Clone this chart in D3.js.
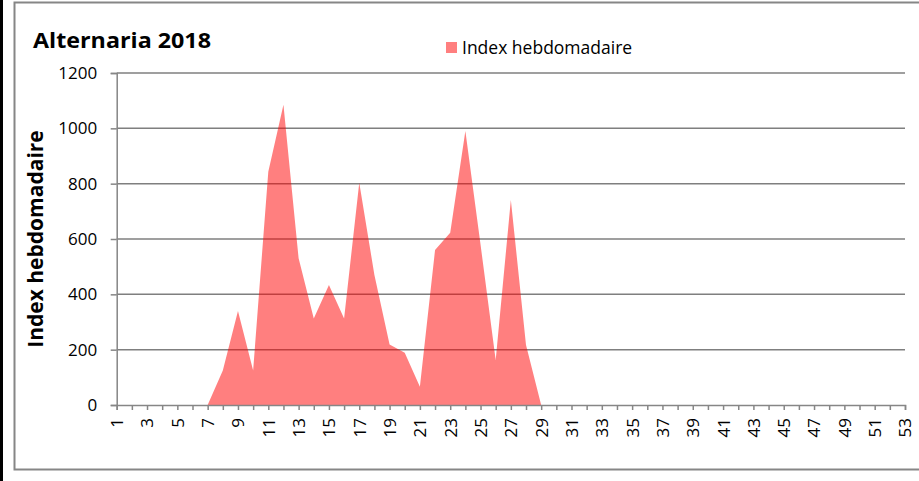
<!DOCTYPE html>
<html>
<head>
<meta charset="utf-8">
<script src="https://d3js.org/d3.v7.min.js"></script>
<style>
	html, body { margin: 0; padding: 0; background: #fff; }
	svg text { font-family: 'Open Sans', sans-serif; fill: #000; }
</style>
</head>
<body>
<div id="chart"></div>
<script>
	// semaines 1..53
	var weeks = [1,2,3,4,5,6,7,8,9,10,11,12,13,14,15,16,17,18,19,20,21,22,23,24,25,26,27,
		28,29,30,31,32,33,34,35,36,37,38,39,40,41,42,43,44,45,46,47,48,49,50,51,52,53];
	var indexValues = [0,0,0,0,0,0,0,125,340,125,843,1085,530,313,434,313,803,470,219,189,66,
		560,623,990,580,163,741,217,0,0,0,0,0,0,0,0,0,0,0,0,0,0,0,0,0,0,0,0,0,0,0,0,0];
	var yTicks = [0,200,400,600,800,1000,1200];
	var xLabels = weeks.filter(function(w){ return w % 2 === 1; });

	var data = weeks.map(function(w, i){ return {week: w, value: indexValues[i]}; });

	var W = 919, H = 481;
	var svg = d3.select('#chart').append('svg')
		.attr('width', W)
		.attr('height', H);

	// bande noire + cadre
	svg.append('rect').attr('x', 0).attr('y', 0).attr('width', 3).attr('height', H).attr('fill', '#000');
	svg.append('rect')
		.attr('x', 14.5).attr('y', 2.5)
		.attr('width', 1000).attr('height', 467)
		.attr('fill', 'none')
		.attr('stroke', '#868686')
		.attr('stroke-width', 2);

	var x = d3.scalePoint().domain(weeks).range([116.7, 905]);
	var y = d3.scaleLinear().domain([0, 1200]).range([405, 73]);

	// quadrillage
	svg.append('g')
		.selectAll('line')
		.data(yTicks.filter(function(t){ return t > 0; }))
		.enter().append('line')
		.attr('x1', 116.7).attr('x2', 905)
		.attr('y1', function(d){ return y(d); })
		.attr('y2', function(d){ return y(d); })
		.attr('stroke', '#7f7f7f')
		.attr('stroke-width', 1.5);

	// aire
	var area = d3.area()
		.x(function(d){ return x(d.week); })
		.y0(y(0))
		.y1(function(d){ return y(d.value); });

	svg.append('path')
		.datum(data)
		.attr('d', area)
		.attr('fill', '#ff0000')
		.attr('fill-opacity', 0.5);

	// axe y
	var yAxis = d3.axisLeft(y).tickValues(yTicks).tickSize(6).tickPadding(13.5).tickFormat(d3.format('d'));
	var gy = svg.append('g').attr('transform', 'translate(116.7,0)').call(yAxis);
	gy.select('.domain').attr('stroke', '#868686').attr('stroke-width', 1.5);
	gy.selectAll('.tick line').attr('stroke', '#868686').attr('stroke-width', 1.5);
	gy.selectAll('text').style('font-size', '17px').style('font-family', "'Open Sans', sans-serif");

	// axe x
	var xAxis = d3.axisBottom(x).tickSize(5).tickFormat(function(d){ return xLabels.indexOf(d) >= 0 ? d : ''; });
	var gx = svg.append('g').attr('transform', 'translate(0,405)').call(xAxis);
	gx.select('.domain').attr('stroke', '#868686').attr('stroke-width', 1.5);
	gx.selectAll('.tick line').attr('stroke', '#868686').attr('stroke-width', 1.5);
	gx.selectAll('text')
		.style('font-size', '17px')
		.style('font-family', "'Open Sans', sans-serif")
		.style('text-anchor', 'end')
		.attr('x', -13)
		.attr('y', 0)
		.attr('dy', '0.35em')
		.attr('transform', 'rotate(-90)');

	// titre
	svg.append('text')
		.attr('x', 33).attr('y', 48)
		.style('font-size', '21px')
		.style('font-weight', 'bold')
		.attr('textLength', 178)
		.attr('lengthAdjust', 'spacingAndGlyphs')
		.text('Alternaria 2018');

	// titre axe y
	svg.append('text')
		.attr('transform', 'translate(43,239) rotate(-90)')
		.attr('text-anchor', 'middle')
		.style('font-size', '21px')
		.style('font-weight', 'bold')
		.text('Index hebdomadaire');

	// légende
	svg.append('rect')
		.attr('x', 446).attr('y', 42)
		.attr('width', 11).attr('height', 11)
		.attr('fill', '#ff0000').attr('fill-opacity', 0.5);
	svg.append('text')
		.attr('x', 462).attr('y', 54)
		.style('font-size', '17.5px')
		.text('Index hebdomadaire');
</script>
</body>
</html>
